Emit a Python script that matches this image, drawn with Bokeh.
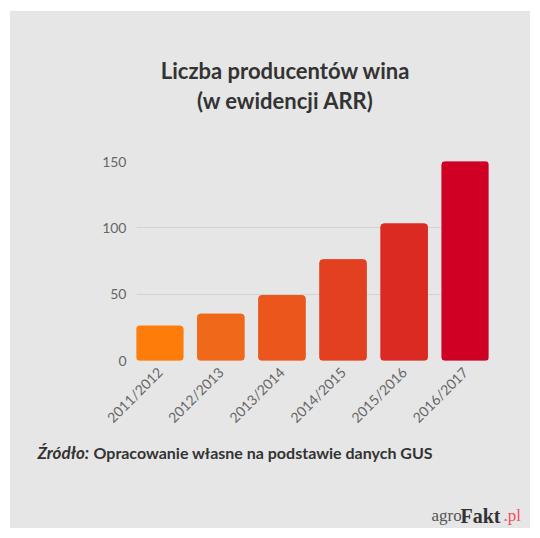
import math
from bokeh.plotting import figure
from bokeh.models import Range1d, FixedTicker, Spacer, ColumnDataSource
from bokeh.core.properties import value
from bokeh.layouts import column, row
from bokeh.embed import file_html
from bokeh.resources import INLINE

# data
seasons = ["2011/2012", "2012/2013", "2013/2014", "2014/2015", "2015/2016", "2016/2017"]
producers = [26, 35, 49, 76, 103, 150]
bar_colors = ["#fd7c0a", "#f06819", "#ea561c", "#e24020", "#da2a22", "#d00024"]
y_ticks = [0, 50, 100, 150]

title_lines = ["Liczba producentów wina", "(w ewidencji ARR)"]
source_label = "Źródło:"
source_text = "Opracowanie własne na podstawie danych GUS"
logo_parts = ["agro", "Fakt", ".pl"]

BG = "#e6e6e6"
W = 520


def blank(height):
    f = figure(width=W, height=height, output_backend="svg", toolbar_location=None,
               x_range=Range1d(0, W), y_range=Range1d(height, 0),
               min_border=0, x_axis_location=None, y_axis_location=None)
    f.background_fill_color = BG
    f.border_fill_color = BG
    f.outline_line_color = None
    f.grid.grid_line_color = None
    f.frame_align = False
    return f


# header with title
header = blank(140)
header.text(x=[275, 275], y=[59, 89], text=title_lines, text_align="center",
            text_baseline="middle", text_font=value("Lato"), text_font_style="bold",
            text_font_size="22px", text_color="#333333")

# main chart
positions = list(range(1, len(seasons) + 1))
src = ColumnDataSource(dict(x=positions, top=producers, color=bar_colors))
bw = 0.762
p = figure(width=W, height=289, output_backend="svg", toolbar_location=None,
           x_range=Range1d(1 - bw / 2, len(seasons) + bw / 2), y_range=Range1d(0, 150),
           min_border_left=126, min_border_right=42, min_border_top=10, min_border_bottom=80)
p.frame_align = False
p.background_fill_color = BG
p.border_fill_color = BG
p.outline_line_color = None
p.vbar(x="x", top="top", width=bw, color="color", source=src, border_radius=3)

p.xgrid.grid_line_color = None
p.ygrid.grid_line_color = "#d2d2d2"
p.ygrid.grid_line_width = 1
p.yaxis.ticker = FixedTicker(ticks=y_ticks)
p.xaxis.ticker = FixedTicker(ticks=positions)
p.xaxis.major_label_overrides = {pos: s for pos, s in zip(positions, seasons)}
p.xaxis.major_label_orientation = math.pi / 4
for ax in (p.xaxis, p.yaxis):
    ax.axis_line_color = None
    ax.major_tick_line_color = None
    ax.minor_tick_line_color = None
    ax.major_tick_out = 0
    ax.major_tick_in = 0
    ax.major_label_text_color = "#666666"
    ax.major_label_text_font = "Lato"
    ax.major_label_text_font_size = "14px"
p.yaxis.major_label_standoff = 10
p.xaxis.major_label_standoff = 9

# footer with source and logo
footer = blank(88)
footer.text(x=[27], y=[12], text=[source_label], text_align="left", text_baseline="middle",
            text_font=value("Lato"), text_font_style="bold italic", text_font_size="17px",
            text_color="#333333")
footer.text(x=[83], y=[12], text=[source_text], text_align="left", text_baseline="middle",
            text_font=value("Lato"), text_font_style="bold", text_font_size="16px",
            text_color="#333333")
footer.text(x=[421], y=[75], text=[logo_parts[0]], text_align="left", text_baseline="middle",
            text_font=value("Liberation Serif"), text_font_size="17px", text_color="#555555")
footer.text(x=[450], y=[75], text=[logo_parts[1]], text_align="left", text_baseline="middle",
            text_font=value("Liberation Serif"), text_font_style="bold", text_font_size="20px",
            text_color="#333333")
footer.text(x=[493], y=[75], text=[logo_parts[2]], text_align="left", text_baseline="middle",
            text_font=value("Liberation Serif"), text_font_size="17px", text_color="#ef4f60")

inner = column(header, p, footer, styles={"background-color": BG})
layout = column(Spacer(height=11), row(Spacer(width=10), inner))
open("out.html", "w").write(file_html(layout, INLINE))
